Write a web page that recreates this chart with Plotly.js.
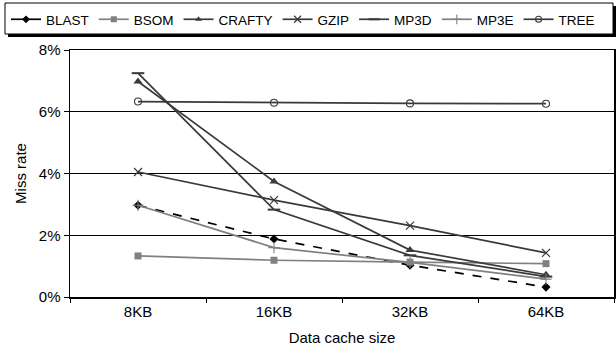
<!DOCTYPE html>
<html>
<head>
<meta charset="utf-8">
<script src="https://cdn.plot.ly/plotly-3.0.1.min.js"></script>
<style>html,body{margin:0;padding:0;background:#fff}#chart{width:616px;height:346px}</style>
</head>
<body>
<div id="chart"></div>
<script>
const categories = ["8KB", "16KB", "32KB", "64KB"];
const seriesNames = ["BLAST", "BSOM", "CRAFTY", "GZIP", "MP3D", "MP3E", "TREE"];
const blast  = [2.97, 1.88, 1.03, 0.32];
const bsom   = [1.33, 1.19, 1.13, 1.08];
const crafty = [6.98, 3.74, 1.52, 0.72];
const gzip   = [4.05, 3.14, 2.31, 1.43];
const mp3d   = [7.25, 2.83, 1.35, 0.66];
const mp3e   = [2.97, 1.60, 1.12, 0.58];
const tree   = [6.33, 6.29, 6.27, 6.26];
const yTickVals = [0, 2, 4, 6, 8];
const yTickText = ["0%", "2%", "4%", "6%", "8%"];

const dark = "#3a3a3a", grey = "#808080";
const styles = [
  {data: blast,  color: "#000000", dash: "dash",  symbol: "diamond",      size: 7,  lsize: 6, mline: 0},
  {data: bsom,   color: grey,      dash: "solid", symbol: "square",       size: 7,  lsize: 6, mline: 0},
  {data: crafty, color: dark,      dash: "solid", symbol: "triangle-up",  size: 8,  lsize: 6, mline: 0},
  {data: gzip,   color: dark,      dash: "solid", symbol: "x-thin",       size: 8,  lsize: 7, mline: 1.2},
  {data: mp3d,   color: dark,      dash: "solid", symbol: "line-ew",      size: 9,  lsize: 8, mline: 2},
  {data: mp3e,   color: grey,      dash: "solid", symbol: "cross-thin",   size: 8,  lsize: 7, mline: 1.1},
  {data: tree,   color: dark,      dash: "solid", symbol: "circle-open",  size: 7,  lsize: 6, mline: 1.1}
];

const traces = [];
styles.forEach((s, i) => {
  traces.push({
    type: "scatter", mode: "lines+markers", x: categories, y: s.data,
    name: seriesNames[i], showlegend: false, legendrank: i + 1,
    line: {color: s.color, width: 1.7, dash: s.dash},
    marker: {symbol: s.symbol, size: s.size, color: s.color, line: {color: s.color, width: s.mline}},
    hoverinfo: "skip"
  });
  traces.push({
    type: "scatter", mode: "lines+markers", x: [null], y: [null],
    name: seriesNames[i], showlegend: true, legendrank: i + 1,
    line: {color: s.color, width: 1.7, dash: "solid"},
    marker: {symbol: s.symbol, size: s.lsize, color: s.color, line: {color: s.color, width: s.mline}}
  });
});

const W = 544, H = 247, L = 70, B = 297;
const px = v => (v - L) / W;
const py = v => (B - v) / H;
const FONT = "Liberation Sans, Arial, sans-serif";

const layout = {
  width: 616, height: 346,
  margin: {l: 70, r: 2, t: 50, b: 49},
  paper_bgcolor: "#ffffff", plot_bgcolor: "#ffffff",
  font: {family: FONT, size: 15, color: "#000"},
  showlegend: true,
  legend: {
    orientation: "h", x: px(6), xanchor: "left", y: py(4), yanchor: "top",
    bgcolor: "rgba(0,0,0,0)", borderwidth: 0,
    font: {family: FONT, size: 13.5, color: "#000"},
    traceorder: "normal"
  },
  xaxis: {
    type: "category", range: [-0.5, 3.5], tickson: "boundaries",
    ticks: "outside", ticklen: 4, tickcolor: "#000", tickwidth: 1,
    showline: true, linecolor: "#000", linewidth: 1.5, mirror: true,
    showgrid: false, zeroline: false, fixedrange: true,
    tickfont: {size: 15},
    title: {text: "Data cache size", font: {size: 15}, standoff: 14}
  },
  yaxis: {
    range: [0, 8], tickvals: yTickVals, ticktext: yTickText,
    ticks: "outside", ticklen: 5, tickcolor: "#000", tickwidth: 1,
    showline: true, linecolor: "#000", linewidth: 1.5, mirror: true,
    showgrid: true, gridcolor: "#000", gridwidth: 1, zeroline: false,
    fixedrange: true, tickfont: {size: 15},
    title: {text: "Miss rate", font: {size: 15}, standoff: 8}
  },
  shapes: [
    {type: "rect", xref: "paper", yref: "paper", x0: px(8), x1: px(620), y0: py(37), y1: py(6),
     fillcolor: "#000", line: {width: 0}, layer: "above"},
    {type: "rect", xref: "paper", yref: "paper", x0: px(5), x1: px(613), y0: py(34), y1: py(3),
     fillcolor: "#fff", line: {color: "#000", width: 1}, layer: "above"}
  ]
};

Plotly.newPlot("chart", traces, layout, {displayModeBar: false, staticPlot: true});
</script>
</body>
</html>
